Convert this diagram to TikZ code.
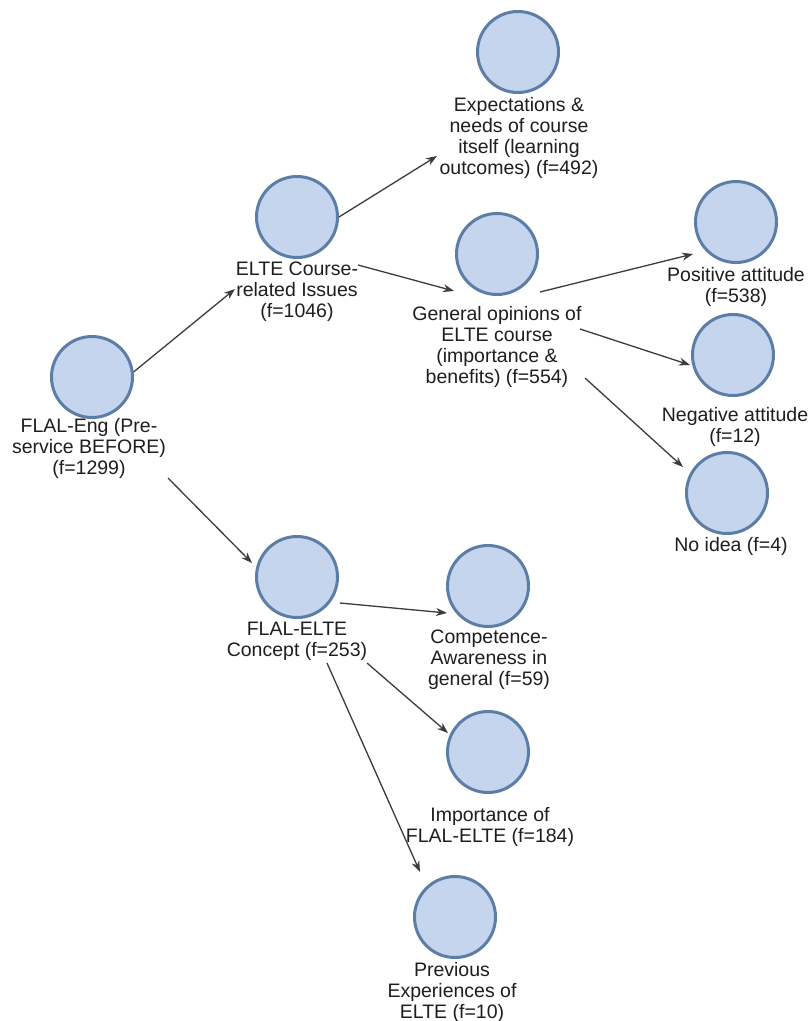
\documentclass[tikz,border=0pt]{standalone}
\usepackage{fontspec}
\setmainfont{Liberation Sans}
\usetikzlibrary{arrows.meta}
\definecolor{cfill}{RGB}{198,213,238}
\definecolor{cdraw}{RGB}{92,126,166}
\definecolor{carrow}{RGB}{60,60,60}
\definecolor{ctext}{RGB}{30,30,30}
\tikzset{
  concept/.style={circle, minimum size=81pt, inner sep=0pt, line width=3pt, draw=cdraw, fill=cfill},
  lbl/.style={anchor=north, align=center, inner sep=0pt, text=ctext, font=\fontsize{19.5}{21}\selectfont},
  link/.style={draw=carrow, line width=1.3pt, -{Stealth[length=11pt,width=8pt]}}
}
\begin{document}
\begin{tikzpicture}[x=1pt,y=-1pt]
\useasboundingbox[fill=white] (0,0) rectangle (811,1021);

% circles
\node[concept] (eng)     at (92,377) {};
\node[concept] (course)  at (297,217) {};
\node[concept] (expect)  at (518,52) {};
\node[concept] (general) at (497,254) {};
\node[concept] (pos)     at (736,222) {};
\node[concept] (neg)     at (733,355) {};
\node[concept] (noidea)  at (727,493) {};
\node[concept] (concept) at (297,577) {};
\node[concept] (compet)  at (488,586) {};
\node[concept] (import)  at (488,752) {};
\node[concept] (prev)    at (455,917) {};

% labels
\node[lbl] (engL)     at (89,418)  {FLAL-Eng (Pre-\\service BEFORE)\\(f=1299)};
\node[lbl] (courseL)  at (297,262) {ELTE Course-\\related Issues\\(f=1046)};
\node[lbl] (expectL)  at (519,97)  {Expectations \&\\needs of course\\itself (learning\\outcomes) (f=492)};
\node[lbl] (generalL) at (497,306) {General opinions of\\ELTE course\\(importance \&\\benefits) (f=554)};
\node[lbl] (posL)     at (736,267) {Positive attitude\\(f=538)};
\node[lbl] (negL)     at (735,407) {Negative attitude\\(f=12)};
\node[lbl] (noL)      at (731,537) {No idea (f=4)};
\node[lbl] (conceptL) at (297,622) {FLAL-ELTE\\Concept (f=253)};
\node[lbl] (competL)  at (489,630) {Competence-\\Awareness in\\general (f=59)};
\node[lbl] (importL)  at (490,807) {Importance of\\FLAL-ELTE (f=184)};
\node[lbl] (prevL)    at (452,962) {Previous\\Experiences of\\ELTE (f=10)};

% connector ends
\coordinate (t1) at (235,289);
\coordinate (t2) at (437,156);
\coordinate (s3) at (358,265); \coordinate (t3) at (454,291);
\coordinate (s4) at (540,292); \coordinate (t4) at (693,254);
\coordinate (s5) at (580,329); \coordinate (t5) at (690,365);
\coordinate (s6) at (585,378); \coordinate (t6) at (683,467);
\coordinate (s7) at (168,478); \coordinate (t7) at (252,563);
\coordinate (s8) at (340,603); \coordinate (t8) at (447,613);
\coordinate (s9) at (367,663); \coordinate (t9) at (448,733);
\coordinate (s10) at (327,663); \coordinate (t10) at (420,872);

% connectors
\draw[link] (eng.7) -- (t1);
\draw[link] (course.east) -- (t2);
\draw[link] (s3) -- (t3);
\draw[link] (s4) -- (t4);
\draw[link] (s5) -- (t5);
\draw[link] (s6) -- (t6);
\draw[link] (s7) -- (t7);
\draw[link] (s8) -- (t8);
\draw[link] (s9) -- (t9);
\draw[link] (s10) -- (t10);
\end{tikzpicture}
\end{document}
